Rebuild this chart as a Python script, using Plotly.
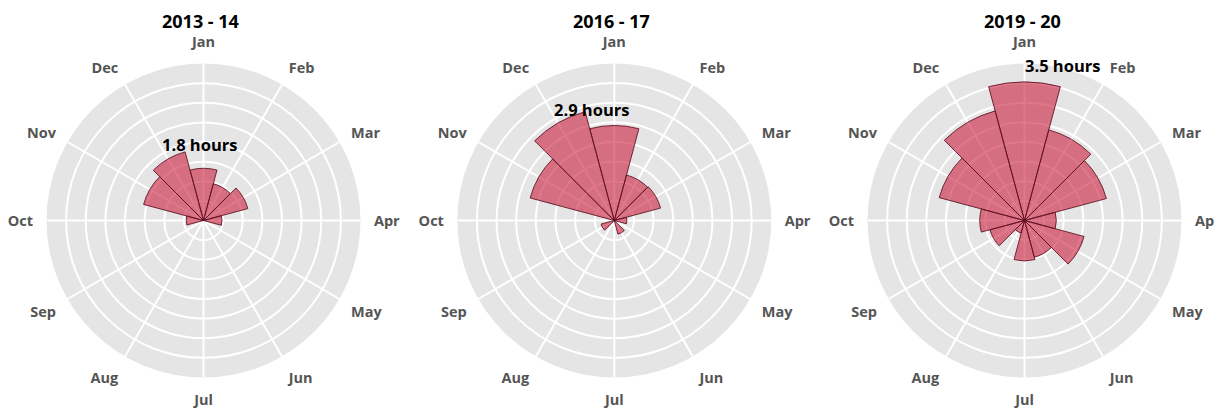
import plotly.graph_objects as go

months = ["Jan", "Feb", "Mar", "Apr", "May", "Jun", "Jul", "Aug", "Sep", "Oct", "Nov", "Dec"]
titles = ["2013 - 14", "2016 - 17", "2019 - 20"]
hours_2013_14 = [1.33, 0.97, 1.17, 0.47, 0, 0, 0, 0, 0, 0.44, 1.58, 1.81]
hours_2016_17 = [2.42, 1.20, 1.22, 0.32, 0, 0.36, 0, 0, 0.35, 0, 2.22, 2.87]
hours_2019_20 = [3.53, 2.39, 2.16, 0.81, 1.57, 0.97, 1.03, 0.33, 0.91, 1.14, 2.25, 2.89]
series = [hours_2013_14, hours_2016_17, hours_2019_20]

# The page body has an 8px margin; work in screen pixels and convert.
OFF = 8
W, H = 1222 - OFF, 410 - OFF
R = 157
centers_x = [203.5, 614.3, 1024.5]
center_y = 220.5
title_pos = [(200.5, 21), (611, 21), (1022, 21)]
label_pos = [(200, 144), (591, 109), (1062, 65.5)]

def px(x):
    return (x - OFF) / W

def py(y):
    return 1 - (y - OFF) / H

FONT = "Open Sans, Noto Sans, DejaVu Sans, sans-serif"

fig = go.Figure()
layout = dict(
    width=W, height=H,
    margin=dict(l=0, r=0, t=0, b=0, autoexpand=False),
    paper_bgcolor="white",
    showlegend=False,
    font=dict(family=FONT),
)
annotations = []
for i, vals in enumerate(series):
    key = "polar" if i == 0 else f"polar{i+1}"
    fig.add_trace(go.Barpolar(
        r=vals, theta=months, subplot=key,
        marker=dict(color="rgba(200,30,60,0.6)",
                    line=dict(color="rgba(90,15,30,0.85)", width=1)),
    ))
    cx = centers_x[i]
    layout[key] = dict(
        domain=dict(x=[px(cx - R), px(cx + R)],
                    y=[py(center_y + R), py(center_y - R)]),
        bgcolor="#e5e5e5",
        bargap=0,
        radialaxis=dict(range=[0, 4], dtick=0.5, showticklabels=False, ticks="",
                        showline=False, gridcolor="white", gridwidth=1.5),
        angularaxis=dict(rotation=90, direction="clockwise", categoryorder="array",
                         categoryarray=months, showline=False, ticks="outside",
                         ticklen=10, tickcolor="rgba(0,0,0,0)",
                         gridcolor="white", gridwidth=1.5,
                         tickfont=dict(family=FONT, size=14.5, color="#555555", weight="bold")),
    )
    tx, ty = title_pos[i]
    annotations.append(dict(
        text=f"<b>{titles[i]}</b>", x=px(tx), y=py(ty), xref="paper", yref="paper",
        xanchor="center", yanchor="middle",
        showarrow=False, font=dict(family=FONT, size=18, color="black"),
    ))
    lx, ly = label_pos[i]
    annotations.append(dict(
        text=f"<b>{max(vals):.1f} hours</b>", x=px(lx), y=py(ly), xref="paper", yref="paper",
        xanchor="center", yanchor="middle",
        showarrow=False, font=dict(family=FONT, size=16.5, color="black"),
    ))
layout["annotations"] = annotations
fig.update_layout(**layout)
fig.write_html("out.html")
